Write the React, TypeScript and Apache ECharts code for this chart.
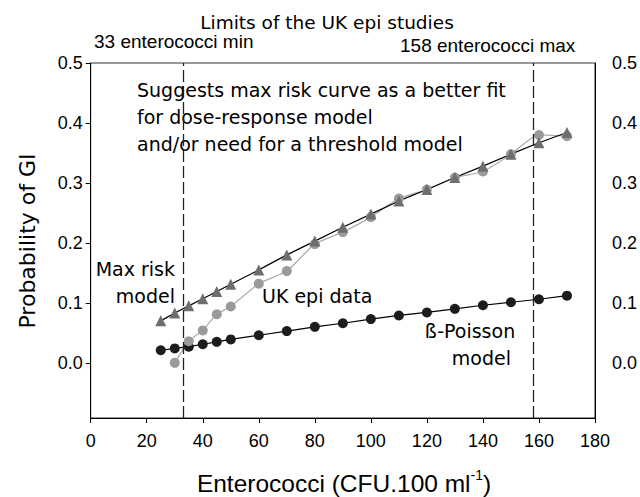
import React, { useEffect, useRef } from "react";
import * as echarts from "echarts";

// Doses (CFU/100 ml) for the model curves
const modelDoses = [25, 30, 35, 40, 45, 50, 60, 70, 80, 90, 100, 110, 120, 130, 140, 150, 160, 170];
// Max risk model (triangles)
const maxRisk = [0.07, 0.083, 0.095, 0.107, 0.119, 0.131, 0.155, 0.18, 0.203, 0.226, 0.248, 0.27, 0.289, 0.309, 0.328, 0.348, 0.367, 0.384];
// Beta-Poisson model (black circles)
const betaPoisson = [0.021, 0.024, 0.027, 0.031, 0.035, 0.039, 0.046, 0.053, 0.06, 0.066, 0.073, 0.079, 0.084, 0.09, 0.096, 0.101, 0.106, 0.112];
// UK epi data (grey circles)
const ukDoses = [30, 35, 40, 45, 50, 60, 70, 80, 90, 100, 110, 120, 130, 140, 150, 160, 170];
const ukEpi = [0.0, 0.036, 0.054, 0.081, 0.094, 0.132, 0.153, 0.198, 0.218, 0.243, 0.274, 0.289, 0.309, 0.319, 0.348, 0.38, 0.378];
// Limits of the UK epi studies
const limits = [33, 158];
// Axis tick values
const yTicks = [0, 0.1, 0.2, 0.3, 0.4, 0.5];

const SANS = "Liberation Sans";
const TAHOMA = "DejaVu Sans";

export default function App() {
  const ref = useRef<HTMLDivElement>(null);
  useEffect(() => {
    if (!ref.current) return;
    const chart = echarts.init(ref.current, undefined, { renderer: "svg" });
    const pair = (xs: number[], ys: number[]) => xs.map((x, i) => [x, ys[i]]);
    const yAxisBase = {
      type: "value",
      min: -0.092,
      max: 0.5,
      splitLine: { show: false },
      axisLine: { show: true, lineStyle: { color: "#000", width: 1 } },
    };
    const text = (x: number, y: number, t: string, size: number, font: string, align = "left") => ({
      type: "text",
      x,
      y,
      style: {
        text: t,
        fontSize: size,
        fontFamily: font,
        fill: "#000",
        textAlign: align,
        textVerticalAlign: "middle",
      },
    });
    chart.setOption({
      animation: false,
      grid: {
        left: 90.7,
        right: 45,
        top: 63,
        bottom: 79,
        show: true,
        borderColor: "#333",
        borderWidth: 1,
      },
      xAxis: {
        type: "value",
        min: 0,
        max: 180,
        interval: 20,
        splitLine: { show: false },
        axisLine: { onZero: false, lineStyle: { color: "#000", width: 1 } },
        axisTick: { inside: false, length: 5, lineStyle: { color: "#000" } },
        axisLabel: { fontSize: 18, fontFamily: SANS, color: "#000", margin: 14 },
      },
      yAxis: [
        {
          ...yAxisBase,
          position: "left",
          axisTick: { show: true, length: 5, customValues: yTicks, lineStyle: { color: "#000" } },
          axisLabel: {
            fontSize: 18,
            fontFamily: SANS,
            color: "#000",
            margin: 8,
            customValues: yTicks,
            formatter: (v: number) => v.toFixed(1),
          },
        },
        {
          ...yAxisBase,
          position: "right",
          axisTick: { show: false },
          axisLabel: {
            fontSize: 18,
            fontFamily: SANS,
            color: "#000",
            margin: 17,
            customValues: yTicks,
            formatter: (v: number) => v.toFixed(1),
          },
        },
      ],
      series: [
        {
          name: "β-Poisson model",
          type: "line",
          data: pair(modelDoses, betaPoisson),
          symbol: "circle",
          symbolSize: 10,
          itemStyle: { color: "#1c1c1c" },
          lineStyle: { color: "#000", width: 1.2 },
          markLine: {
            silent: true,
            symbol: ["none", "none"],
            label: { show: false },
            lineStyle: { color: "#222", type: [12, 4], width: 1.3 },
            data: limits.map((v) => ({ xAxis: v })),
          },
        },
        {
          name: "UK epi data",
          type: "line",
          data: pair(ukDoses, ukEpi),
          symbol: "circle",
          symbolSize: 10,
          smooth: 0.2,
          itemStyle: { color: "#9a9a9a" },
          lineStyle: { color: "#ababab", width: 1.2 },
        },
        {
          name: "Max risk model",
          type: "line",
          data: pair(modelDoses, maxRisk),
          symbol: "triangle",
          symbolSize: 11,
          itemStyle: { color: "#6e6e6e" },
          lineStyle: { color: "#000", width: 1.2 },
        },
      ],
      graphic: [
        text(327, 22, "Limits of the UK epi studies", 18.5, TAHOMA, "center"),
        text(94, 41, "33 enterococci min", 19, SANS),
        text(400, 45, "158 enterococci max", 19, SANS),
        text(137, 90, "Suggests max risk curve as a better fit", 19, TAHOMA),
        text(137, 117, "for dose-response model", 19, TAHOMA),
        text(137, 144, "and/or need for a threshold model", 19, TAHOMA),
        text(175, 269, "Max risk", 19, TAHOMA, "right"),
        text(175, 296, "model", 19, TAHOMA, "right"),
        text(262, 296, "UK epi data", 19, TAHOMA),
        text(470, 331, "ß-Poisson", 19, TAHOMA, "center"),
        text(511, 358, "model", 19, TAHOMA, "right"),
        {
          type: "text",
          x: 27,
          y: 241,
          rotation: Math.PI / 2,
          style: {
            text: "Probability of GI",
            fontSize: 22,
            fontFamily: TAHOMA,
            fill: "#000",
            textAlign: "center",
            textVerticalAlign: "middle",
          },
        },
        {
          type: "text",
          x: 344,
          y: 483,
          style: {
            text: "{a|Enterococci (CFU.100 ml}{s|-1}{a|)}",
            textAlign: "center",
            textVerticalAlign: "middle",
            rich: {
              a: { fontSize: 24.5, fontFamily: SANS, fill: "#000", lineHeight: 30 },
              s: { fontSize: 14, fontFamily: SANS, fill: "#000", lineHeight: 30, verticalAlign: "top" },
            },
          },
        },
      ],
    });
    return () => chart.dispose();
  }, []);
  return (
    <div
      ref={ref}
      style={{ position: "absolute", left: 0, top: 0, width: 640, height: 497, background: "#fff" }}
    />
  );
}
